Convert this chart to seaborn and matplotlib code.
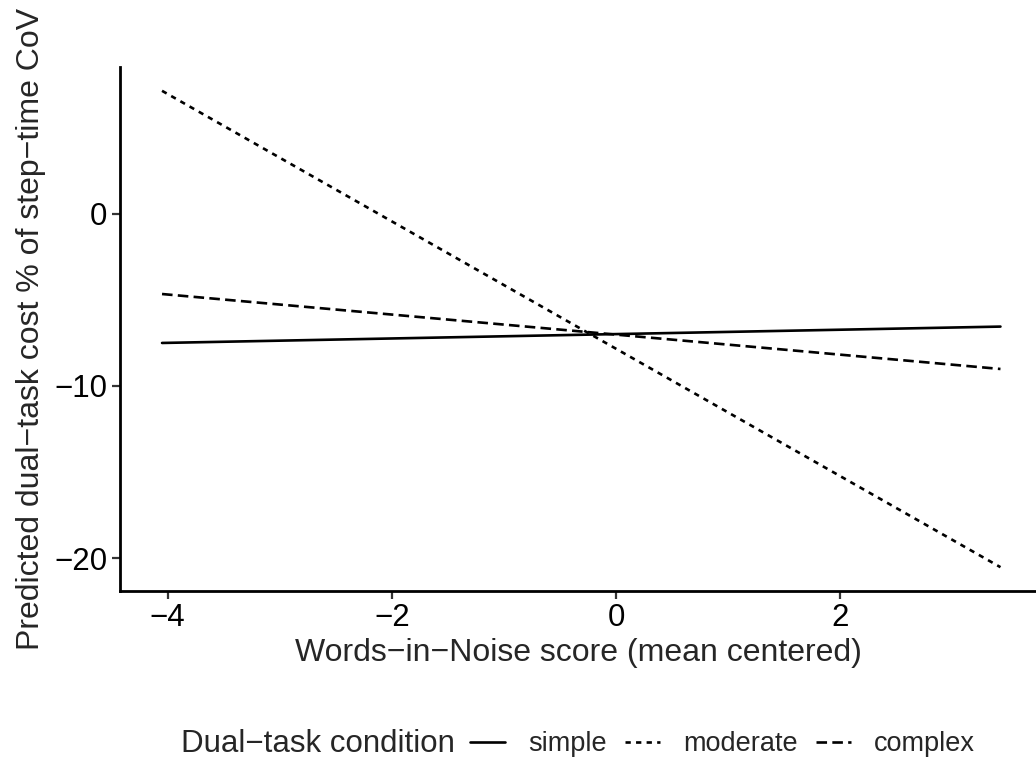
import numpy as np
import pandas as pd
import matplotlib
matplotlib.use("Agg")
import matplotlib.pyplot as plt
import seaborn as sns

# Data
conditions = ["simple", "moderate", "complex"]
win_score = [-4.05, 3.43]
simple_vals = [-7.51, -6.56]
moderate_vals = [7.12, -20.52]
complex_vals = [-4.67, -9.02]
x_ticks = [-4, -2, 0, 2]
y_ticks = [-20, -10, 0]
x_limits = [-4.425, 3.747]

df = pd.DataFrame({
    "x": win_score * 3,
    "y": simple_vals + moderate_vals + complex_vals,
    "condition": [c for c in conditions for _ in win_score],
})

sns.set_theme(style="white")
plt.rcParams["font.family"] = ["Liberation Sans", "DejaVu Sans"]
plt.rcParams["axes.unicode_minus"] = True

fig = plt.figure(figsize=(10.36, 7.64), dpi=100)
ax = fig.add_axes([120 / 1036, 1 - 591 / 764, 1 - 120 / 1036, (591 - 67) / 764])

dashes = {"simple": "", "moderate": (2, 2), "complex": (4, 2)}
sns.lineplot(data=df, x="x", y="y", style="condition", style_order=conditions,
             dashes=dashes, color="black", linewidth=1.9, ax=ax, legend=True)

handles, labels = ax.get_legend_handles_labels()
ax.get_legend().remove()

ax.set_xlim(*x_limits)
allv = simple_vals + moderate_vals + complex_vals
yr = max(allv) - min(allv)
ax.set_ylim(min(allv) - 0.05 * yr, max(allv) + 0.05 * yr)
ax.set_xticks(x_ticks)
ax.set_yticks(y_ticks)

for s in ["top", "right"]:
    ax.spines[s].set_visible(False)
for s in ["left", "bottom"]:
    ax.spines[s].set_color("black")
    ax.spines[s].set_linewidth(2.0)

ax.tick_params(axis="both", which="both", direction="out", length=6, width=1.6,
               color="#333333", labelsize=22.5, labelcolor="black", pad=3,
               left=True, bottom=True)

ax.set_xlabel("Words\u2212in\u2212Noise score (mean centered)", fontsize=23, labelpad=3)
ax.set_ylabel("Predicted dual\u2212task cost % of step\u2212time CoV", fontsize=23, labelpad=6)

for h in handles:
    h.set_linewidth(1.9)

ycen = 1 - 744 / 764
title = fig.text(0, ycen, "Dual\u2212task condition", fontsize=22.5, ha="left", va="center")
leg = fig.legend(handles, labels, loc="center left",
                 bbox_to_anchor=(0.5, ycen), ncol=3, frameon=False,
                 fontsize=19.5, handlelength=1.3, handletextpad=0.85, columnspacing=0.67,
                 borderaxespad=0, borderpad=0)

fig.canvas.draw()
r = fig.canvas.get_renderer()
W = fig.bbox.width
tb = title.get_window_extent(r)
lb = leg.get_window_extent(r)
gap = 15
total = tb.width + gap + lb.width
plot_center = (120 + 1036) / 2
start = plot_center - total / 2
title.set_x(start / W)
leg.set_bbox_to_anchor((( start + tb.width + gap) / W, ycen), transform=fig.transFigure)

fig.savefig("out.png", dpi=100)
